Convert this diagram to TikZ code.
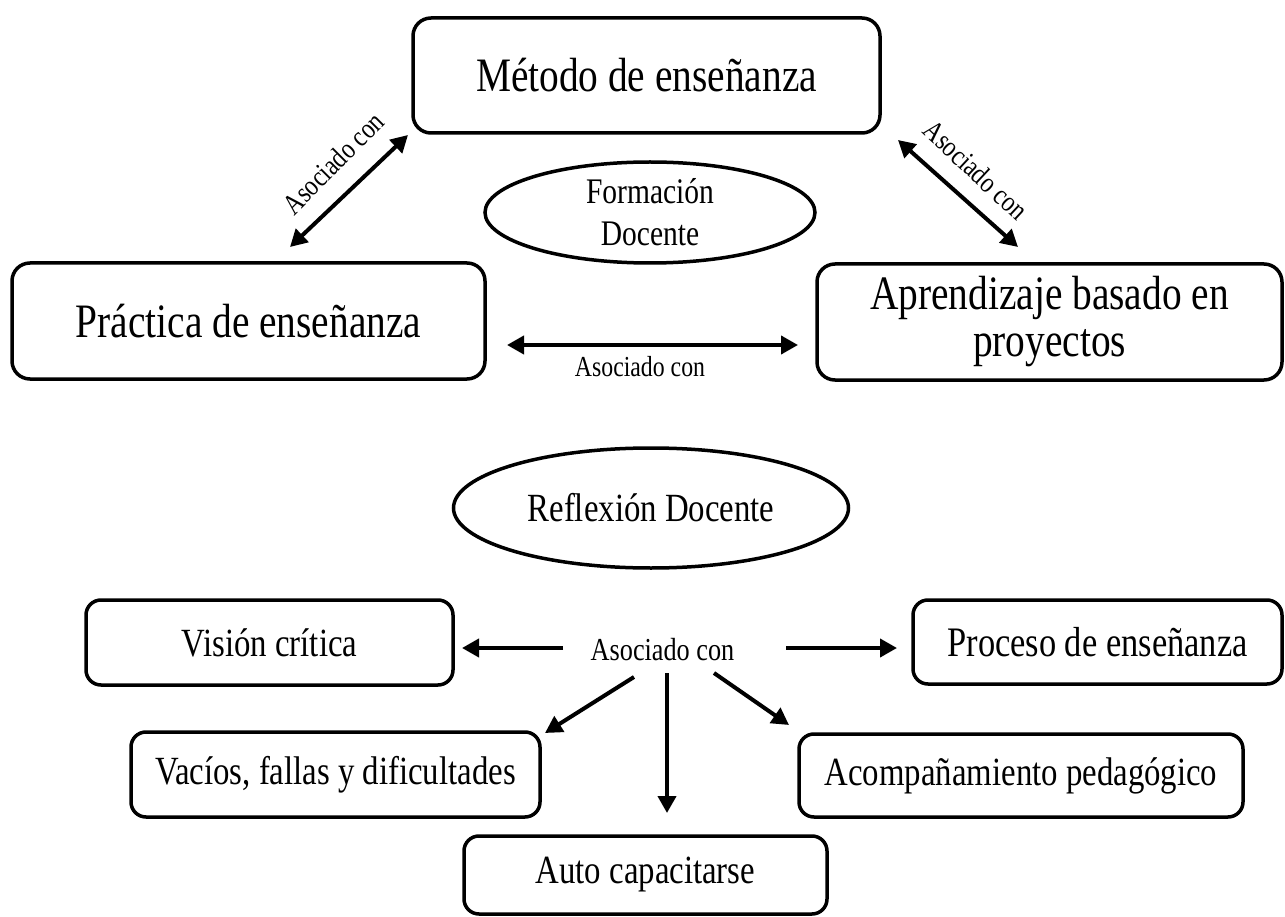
\documentclass[tikz,border=0pt]{standalone}
\usepackage{fontspec}
\setmainfont{Liberation Serif}[FakeStretch=0.82]
\usetikzlibrary{shapes.geometric,arrows.meta}
\begin{document}
\begin{tikzpicture}[x=1pt,y=-1pt,
  box/.style={draw,line width=3.5pt,rounded corners=18pt,align=center,inner sep=0pt},
  oval/.style={draw,ellipse,line width=3.5pt,align=center,inner sep=0pt},
  conn/.style={line width=4pt,-{Triangle[length=17pt,width=18pt]}},
  biconn/.style={line width=4pt,{Triangle[length=17pt,width=18pt]}-{Triangle[length=17pt,width=18pt]}},
  lbl/.style={inner sep=0pt},
  big/.style={font=\fontsize{48}{47}\selectfont},
  mid/.style={font=\fontsize{40}{42}\selectfont},
  small/.style={font=\fontsize{29}{30}\selectfont}]
\useasboundingbox[fill=white] (0,0) rectangle (1285,917);

% top part
\node[box,big,minimum width=467pt,minimum height=115pt] (metodo) at (646.5,75.5) {Método de enseñanza};
\node[box,big,minimum width=473pt,minimum height=116pt] (practica) at (248.5,321) {Práctica de enseñanza};
\node[box,big,minimum width=465pt,minimum height=116pt] (aprend) at (1049.5,322) {Aprendizaje basado en\\proyectos};
\node[oval,font=\fontsize{36}{42}\selectfont,minimum width=330pt,minimum height=101pt] (formacion) at (650,212.5) {Formación\\Docente};

\coordinate (m1) at (408,135);
\coordinate (p1) at (290,247);
\coordinate (m2) at (898,140);
\coordinate (a2) at (1018,247);
\coordinate (p3) at (507,345);
\coordinate (a3) at (798,345);
\draw[biconn] (m1) -- (p1);
\draw[biconn] (m2) -- (a2);
\draw[biconn] (p3) -- (a3);
\node[lbl,small,rotate=45] (l1) at (333,163) {Asociado con};
\node[lbl,small,rotate=-43] (l2) at (976,170) {Asociado con};
\node[lbl,small] (l3) at (640,367) {Asociado con};

% bottom part
\node[oval,font=\fontsize{40}{42}\selectfont,minimum width=395pt,minimum height=120pt] (reflexion) at (651,508) {Reflexión Docente};
\node[lbl,font=\fontsize{32}{34}\selectfont] (asoc) at (662.5,650) {Asociado con};
\node[box,mid,rounded corners=15pt,minimum width=367pt,minimum height=85pt] (vision) at (269.5,642.5) {Visión crítica};
\node[box,font=\fontsize{42}{42}\selectfont,rounded corners=15pt,minimum width=369pt,minimum height=84pt] (proceso) at (1097.5,642) {Proceso de enseñanza};
\node[box,mid,rounded corners=15pt,minimum width=409pt,minimum height=85pt] (vacios) at (335.5,774.5) {Vacíos, fallas y dificultades};
\node[box,mid,rounded corners=15pt,minimum width=444pt,minimum height=83pt] (acomp) at (1021,775.5) {Acompañamiento pedagógico};
\node[box,mid,rounded corners=15pt,minimum width=363pt,minimum height=78pt] (auto) at (645.5,875) {Auto capacitarse};

\coordinate (s1) at (563,648);
\coordinate (t1) at (462,648);
\coordinate (s2) at (786,648);
\coordinate (t2) at (897,648);
\coordinate (s3) at (634,677);
\coordinate (t3) at (545,733);
\coordinate (s4) at (667,673);
\coordinate (t4) at (667,813);
\coordinate (s5) at (714,673);
\coordinate (t5) at (789,725);
\draw[conn] (s1) -- (t1);
\draw[conn] (s2) -- (t2);
\draw[conn] (s3) -- (t3);
\draw[conn] (s4) -- (t4);
\draw[conn] (s5) -- (t5);
\end{tikzpicture}
\end{document}
